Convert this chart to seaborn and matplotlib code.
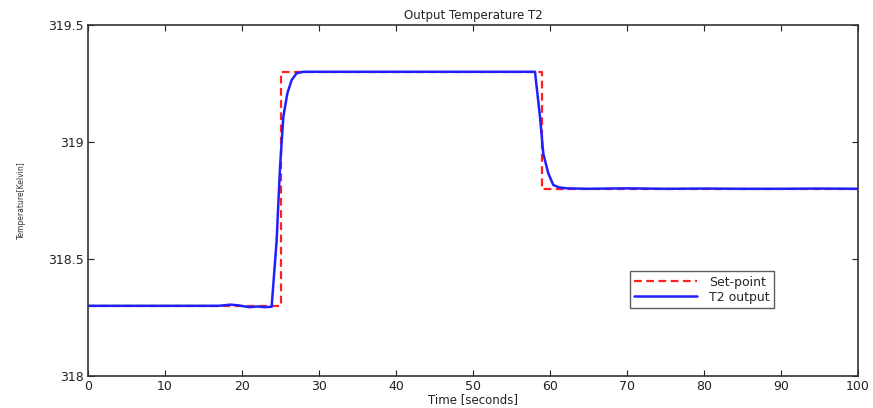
import matplotlib
matplotlib.use("Agg")
import matplotlib.pyplot as plt
import seaborn as sns
import pandas as pd

# Set-point (step signal)
sp_time = [0, 25, 25, 59, 59, 100]
sp_temp = [318.3, 318.3, 319.3, 319.3, 318.8, 318.8]

# T2 output
t2_time = [0, 10, 17, 18.5, 19.5, 21, 22, 23, 23.85, 24.5, 24.94, 25.37, 25.89,
           26.45, 27.1, 27.96, 30, 40, 50, 57, 58.05, 58.7, 59.13, 59.78, 60.43,
           61.2, 62.16, 65, 70, 75, 80, 85, 90, 95, 100]
t2_temp = [318.3, 318.3, 318.3, 318.305, 318.302, 318.294, 318.297, 318.294, 318.296,
           318.58, 318.894, 319.108, 319.208, 319.265, 319.294, 319.30, 319.30,
           319.30, 319.30, 319.30, 319.30, 319.108, 318.95, 318.866, 318.816,
           318.806, 318.802, 318.8, 318.802, 318.8, 318.801, 318.8, 318.8, 318.801, 318.8]

x_ticks = [0, 10, 20, 30, 40, 50, 60, 70, 80, 90, 100]
y_ticks = [318, 318.5, 319, 319.5]
y_tick_labels = ["318", "318.5", "319", "319.5"]

sns.set_style("white")
plt.rcParams['font.family'] = ['DejaVu Sans']

fig = plt.figure(figsize=(8.73, 4.08), dpi=100)
ax = fig.add_axes([88 / 873, 32 / 408, 770 / 873, 351 / 408])

sp_df = pd.DataFrame({"t": sp_time, "v": sp_temp})
t2_df = pd.DataFrame({"t": t2_time, "v": t2_temp})

sns.lineplot(data=sp_df, x="t", y="v", ax=ax, sort=False, estimator=None,
             color="#ff2020", linestyle=(0, (3.5, 2)), linewidth=1.6, label="Set-point")
sns.lineplot(data=t2_df, x="t", y="v", ax=ax, sort=False, estimator=None,
             color="#2020ff", linewidth=1.8, label="T2 output")

ax.set_xlim(0, 100)
ax.set_ylim(318, 319.5)
ax.set_xticks(x_ticks)
ax.set_xticklabels([str(v) for v in x_ticks])
ax.set_yticks(y_ticks)
ax.set_yticklabels(y_tick_labels)
ax.tick_params(direction="in", length=4, width=0.8, top=True, right=True,
               bottom=True, left=True, labelsize=9, colors="#222222", pad=3)
for s in ax.spines.values():
    s.set_color("#333333")
    s.set_linewidth(1.2)

ax.set_title("Output Temperature T2", fontsize=8.5, pad=4, color="#222222")
ax.set_xlabel("Time [seconds]", fontsize=8.5, labelpad=0, color="#222222")
ax.set_ylabel("Temperature[Kelvin]", fontsize=5.5, labelpad=16, color="#333333")

leg = ax.legend(loc="lower left", bbox_to_anchor=(0.704, 0.194), borderaxespad=0,
                fontsize=9, frameon=True, fancybox=False, edgecolor="#333333",
                handlelength=5, handletextpad=1.0, borderpad=0.35, labelspacing=0.15)
leg.get_frame().set_linewidth(1.0)

fig.savefig("out.png", dpi=100)
